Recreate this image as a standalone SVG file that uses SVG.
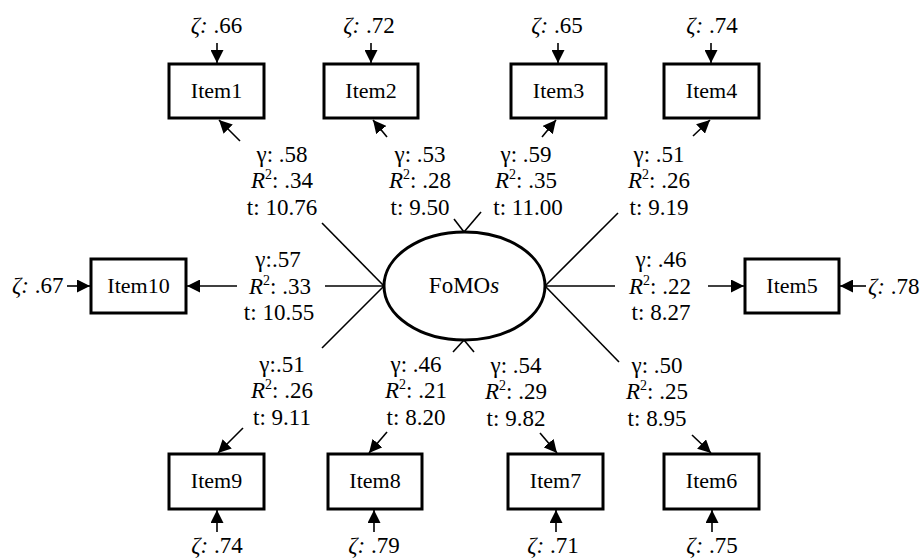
<svg xmlns="http://www.w3.org/2000/svg" width="922" height="559" viewBox="0 0 922 559" font-family="'Liberation Serif', 'DejaVu Serif', serif">
  <style>
    text { font-family: "Liberation Serif", "DejaVu Serif", serif; font-size: 23px; fill: #000; }
    .lbl { text-anchor: middle; }
    .item { font-size: 22px; text-anchor: middle; }
    .box { fill: #fff; stroke: #000; stroke-width: 3; }
    .lat { fill: #fff; stroke: #000; stroke-width: 3; }
    .ln { stroke: #000; stroke-width: 1.6; fill: none; }
    .arr { stroke: #000; stroke-width: 1.6; fill: none; marker-end: url(#head); }
    .it { font-style: italic; }
    .sup { font-size: 14px; }
  </style>
  <defs>
    <marker id="head" markerUnits="userSpaceOnUse" markerWidth="14" markerHeight="13" refX="13" refY="6.5" orient="auto">
      <path d="M0,0 L13,6.5 L0,13 Z" fill="#000"/>
    </marker>
  </defs>
  <rect width="922" height="559" fill="#fff"/>

  <!-- connectors: loadings from the latent factor, split around their labels -->
  <g id="connectors">
    <!-- Item1 -->
    <line class="ln" x1="384" y1="286" x2="322" y2="223"/>
    <line class="arr" x1="240" y1="141" x2="219" y2="120"/>
    <!-- Item2 -->
    <line class="ln" x1="464" y1="232" x2="454" y2="219"/>
    <line class="arr" x1="387" y1="137" x2="373" y2="120"/>
    <!-- Item3 -->
    <line class="ln" x1="464" y1="232" x2="481" y2="212"/>
    <line class="arr" x1="542" y1="137" x2="556" y2="120"/>
    <!-- Item4 -->
    <line class="ln" x1="545" y1="286" x2="618" y2="213"/>
    <line class="arr" x1="693" y1="136" x2="710" y2="120"/>
    <!-- Item5 -->
    <line class="ln" x1="545" y1="286" x2="615" y2="286"/>
    <line class="arr" x1="708" y1="286" x2="744" y2="286"/>
    <!-- Item6 -->
    <line class="ln" x1="545" y1="286" x2="619" y2="362"/>
    <line class="arr" x1="692" y1="435" x2="711" y2="453"/>
    <!-- Item7 -->
    <line class="ln" x1="464" y1="340" x2="474" y2="352"/>
    <line class="arr" x1="540" y1="433" x2="557" y2="453"/>
    <!-- Item8 -->
    <line class="ln" x1="464" y1="340" x2="453" y2="352"/>
    <line class="arr" x1="387" y1="432" x2="369" y2="453"/>
    <!-- Item9 -->
    <line class="ln" x1="384" y1="286" x2="322" y2="348"/>
    <line class="arr" x1="243" y1="428" x2="218" y2="453"/>
    <!-- Item10 -->
    <line class="ln" x1="384" y1="286" x2="325" y2="286"/>
    <line class="arr" x1="237" y1="286" x2="187" y2="286"/>

    <!-- residual arrows -->
    <line class="arr" x1="217" y1="43" x2="217" y2="63"/>
    <line class="arr" x1="371" y1="43" x2="371" y2="63"/>
    <line class="arr" x1="558" y1="43" x2="558" y2="63"/>
    <line class="arr" x1="711" y1="43" x2="711" y2="63"/>
    <line class="arr" x1="217" y1="532" x2="217" y2="510"/>
    <line class="arr" x1="374" y1="532" x2="374" y2="510"/>
    <line class="arr" x1="556" y1="532" x2="556" y2="510"/>
    <line class="arr" x1="712" y1="532" x2="712" y2="510"/>
    <line class="arr" x1="67" y1="286" x2="90" y2="286"/>
    <line class="arr" x1="866" y1="286" x2="840" y2="286"/>
  </g>

  <!-- latent factor -->
  <g id="FoMOs">
    <ellipse class="lat" cx="464.5" cy="286" rx="80.5" ry="54"/>
    <text class="lbl" x="464" y="293">FoMO<tspan class="it">s</tspan></text>
  </g>

  <!-- observed items -->
  <g id="item1"><rect class="box" x="169" y="64" width="95" height="54"/><text class="item" x="216.5" y="98">Item1</text></g>
  <g id="item2"><rect class="box" x="324" y="64" width="94" height="54"/><text class="item" x="371" y="98">Item2</text></g>
  <g id="item3"><rect class="box" x="511" y="64" width="95" height="54"/><text class="item" x="558.5" y="98">Item3</text></g>
  <g id="item4"><rect class="box" x="664" y="64" width="95" height="54"/><text class="item" x="711.5" y="98">Item4</text></g>
  <g id="item5"><rect class="box" x="745" y="259" width="94" height="54"/><text class="item" x="792" y="293">Item5</text></g>
  <g id="item6"><rect class="box" x="664" y="454" width="95" height="55"/><text class="item" x="711.5" y="488">Item6</text></g>
  <g id="item7"><rect class="box" x="508" y="454" width="95" height="55"/><text class="item" x="555.5" y="488">Item7</text></g>
  <g id="item8"><rect class="box" x="328" y="454" width="94" height="55"/><text class="item" x="375" y="488">Item8</text></g>
  <g id="item9"><rect class="box" x="169" y="454" width="95" height="55"/><text class="item" x="216.5" y="488">Item9</text></g>
  <g id="item10"><rect class="box" x="91" y="259" width="95" height="54"/><text class="item" x="138.5" y="293">Item10</text></g>

  <!-- residual labels -->
  <g id="residuals">
    <text class="lbl" x="216.5" y="33"><tspan class="it">ζ:</tspan> .66</text>
    <text class="lbl" x="369" y="33"><tspan class="it">ζ:</tspan> .72</text>
    <text class="lbl" x="557" y="33"><tspan class="it">ζ:</tspan> .65</text>
    <text class="lbl" x="712" y="33"><tspan class="it">ζ:</tspan> .74</text>
    <text class="lbl" x="217" y="553"><tspan class="it">ζ:</tspan> .74</text>
    <text class="lbl" x="374" y="553"><tspan class="it">ζ:</tspan> .79</text>
    <text class="lbl" x="553" y="553"><tspan class="it">ζ:</tspan> .71</text>
    <text class="lbl" x="712" y="553"><tspan class="it">ζ:</tspan> .75</text>
    <text x="12" y="293"><tspan class="it">ζ:</tspan> .67</text>
    <text x="868" y="294"><tspan class="it">ζ:</tspan> .78</text>
  </g>

  <!-- loading labels -->
  <g id="loadings">
    <text class="lbl" x="282" y="162">γ: .58</text>
    <text class="lbl" x="282" y="188"><tspan class="it">R</tspan><tspan class="sup" dy="-9">2</tspan><tspan dy="9">: .34</tspan></text>
    <text class="lbl" x="282" y="215">t: 10.76</text>

    <text class="lbl" x="420" y="162">γ: .53</text>
    <text class="lbl" x="420" y="188"><tspan class="it">R</tspan><tspan class="sup" dy="-9">2</tspan><tspan dy="9">: .28</tspan></text>
    <text class="lbl" x="420" y="215">t: 9.50</text>

    <text class="lbl" x="526" y="162">γ: .59</text>
    <text class="lbl" x="526" y="188"><tspan class="it">R</tspan><tspan class="sup" dy="-9">2</tspan><tspan dy="9">: .35</tspan></text>
    <text class="lbl" x="528" y="215">t: 11.00</text>

    <text class="lbl" x="659" y="162">γ: .51</text>
    <text class="lbl" x="659" y="188"><tspan class="it">R</tspan><tspan class="sup" dy="-9">2</tspan><tspan dy="9">: .26</tspan></text>
    <text class="lbl" x="659" y="215">t: 9.19</text>

    <text class="lbl" x="278" y="267">γ:.57</text>
    <text class="lbl" x="280" y="294"><tspan class="it">R</tspan><tspan class="sup" dy="-9">2</tspan><tspan dy="9">: .33</tspan></text>
    <text class="lbl" x="279" y="320">t: 10.55</text>

    <text class="lbl" x="661" y="267">γ: .46</text>
    <text class="lbl" x="660" y="294"><tspan class="it">R</tspan><tspan class="sup" dy="-9">2</tspan><tspan dy="9">: .22</tspan></text>
    <text class="lbl" x="661" y="320">t: 8.27</text>

    <text class="lbl" x="282" y="372">γ:.51</text>
    <text class="lbl" x="282" y="398"><tspan class="it">R</tspan><tspan class="sup" dy="-9">2</tspan><tspan dy="9">: .26</tspan></text>
    <text class="lbl" x="282" y="425">t: 9.11</text>

    <text class="lbl" x="416" y="372">γ: .46</text>
    <text class="lbl" x="416" y="398"><tspan class="it">R</tspan><tspan class="sup" dy="-9">2</tspan><tspan dy="9">: .21</tspan></text>
    <text class="lbl" x="416" y="425">t: 8.20</text>

    <text class="lbl" x="516" y="373">γ: .54</text>
    <text class="lbl" x="516" y="399"><tspan class="it">R</tspan><tspan class="sup" dy="-9">2</tspan><tspan dy="9">: .29</tspan></text>
    <text class="lbl" x="516" y="426">t: 9.82</text>

    <text class="lbl" x="657" y="373">γ: .50</text>
    <text class="lbl" x="657" y="399"><tspan class="it">R</tspan><tspan class="sup" dy="-9">2</tspan><tspan dy="9">: .25</tspan></text>
    <text class="lbl" x="657" y="426">t: 8.95</text>
  </g>
</svg>
